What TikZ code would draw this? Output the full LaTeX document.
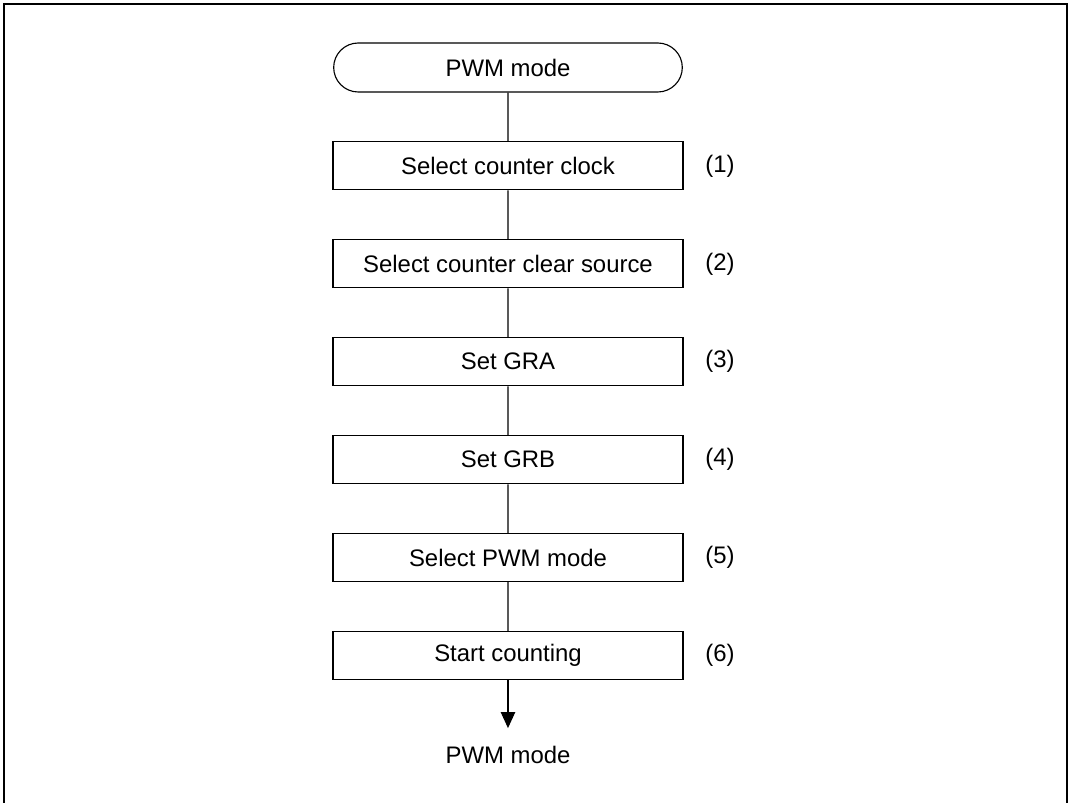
\documentclass[tikz,border=0pt]{standalone}
\usepackage{fontspec}
\setmainfont{Liberation Sans}
\usepackage{tikz}
\usetikzlibrary{shapes.misc,arrows.meta,positioning}
\tikzset{
  stepbox/.style = {draw, line width=0.8pt, minimum width=8.75cm, minimum height=1.2cm},
  term/.style = {draw, rounded rectangle, line width=0.8pt, minimum width=8.95cm, minimum height=1.225cm},
  numlbl/.style = {right=0.42cm},
  flow/.style = {line width=0.8pt}
}

\begin{document}
\begin{tikzpicture}[font=\fontsize{17}{20}\selectfont, node distance=1.22cm]
                \useasboundingbox (-12.7,-18.3875) rectangle (14.025,1.6875);
                \draw[line width=1.4pt] (-12.6,-18.6) -- (-12.6,1.5875) -- (13.98,1.5875) -- (13.98,-18.6);
                \node[term] (start) at (0,0) {PWM mode};
                \node[stepbox, below=of start] (s1) {Select counter clock};
                \node[stepbox, below=of s1] (s2) {Select counter clear source};
                \node[stepbox, below=of s2] (s3) {Set GRA};
                \node[stepbox, below=of s3] (s4) {Set GRB};
                \node[stepbox, below=of s4] (s5) {Select PWM mode};
                \node[stepbox, below=of s5] (s6) {Start counting};
                \node[numlbl] at (s1.east) {(1)};
                \node[numlbl] at (s2.east) {(2)};
                \node[numlbl] at (s3.east) {(3)};
                \node[numlbl] at (s4.east) {(4)};
                \node[numlbl] at (s5.east) {(5)};
                \node[numlbl] at (s6.east) {(6)};
                \draw[flow] (start) -- (s1) -- (s2) -- (s3) -- (s4) -- (s5) -- (s6);
                \coordinate[below=1.2cm of s6.south] (tip);
                \draw[flow, -{Triangle[length=0.4cm,width=0.36cm]}] (s6) -- (tip);
                \node (end) at ([yshift=-0.68cm]tip) {PWM mode};
            \end{tikzpicture}
\end{document}
